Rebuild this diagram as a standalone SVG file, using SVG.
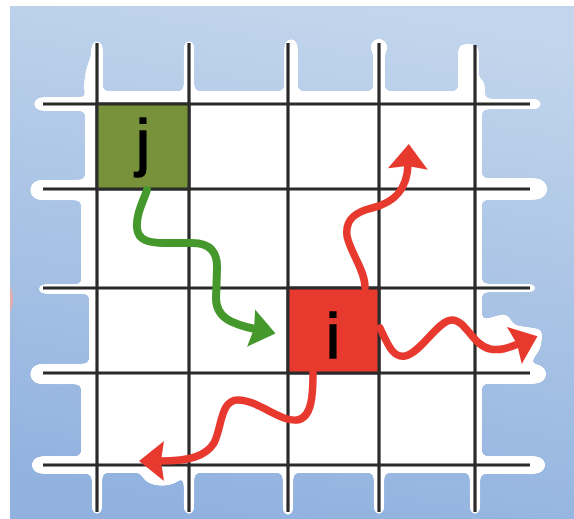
<svg xmlns="http://www.w3.org/2000/svg" width="574" height="519" viewBox="0 0 574 519">
<defs>
<linearGradient id="bg" x1="0.6" y1="0" x2="0.4" y2="1">
<stop offset="0" stop-color="#c2d5ec"/>
<stop offset="1" stop-color="#91b2df"/>
</linearGradient>
<filter id="goo" filterUnits="userSpaceOnUse" x="0" y="0" width="574" height="519" color-interpolation-filters="sRGB">
<feGaussianBlur in="SourceGraphic" stdDeviation="3.5"/>
<feColorMatrix values="1 0 0 0 0  0 1 0 0 0  0 0 1 0 0  0 0 0 18 -7"/>
</filter>
<filter id="soft" x="-5%" y="-5%" width="110%" height="110%">
<feGaussianBlur stdDeviation="0.6"/>
</filter>
<marker id="ahG" markerUnits="userSpaceOnUse" viewBox="-2 -22 30 44" markerWidth="30" markerHeight="44" refX="4" refY="0" orient="auto">
<path d="M0,-19 L25,0 L0,19 L3,0 Z" fill="#45982c"/>
</marker>
<marker id="ahR" markerUnits="userSpaceOnUse" viewBox="-2 -22 30 44" markerWidth="30" markerHeight="44" refX="4" refY="0" orient="auto">
<path d="M0,-20 L25,0 L0,20 L3,0 Z" fill="#e8392f"/>
</marker>
<style>
.cell{stroke:#2b2b2b;stroke-width:3}
.lbl{font-family:"Liberation Sans",Arial,sans-serif;font-size:63px;fill:#000;stroke:#000;stroke-width:1.6;text-anchor:middle}
.flow{fill:none;stroke-linecap:round;stroke-linejoin:round}
.g{stroke:#45982c;stroke-width:8;marker-end:url(#ahG)}
.r{stroke:#e8392f;stroke-width:7.5;marker-end:url(#ahR)}
</style>
</defs>

<rect x="0" y="0" width="574" height="519" fill="#ffffff"/>
<rect x="10" y="6" width="564" height="513" fill="url(#bg)"/>
<path d="M10,286 C14,292 14,306 10,312 Z" fill="#f2a89e" opacity="0.8"/>

<g id="paper" filter="url(#goo)" fill="#fff" stroke="#fff" stroke-linecap="round">
<rect x="90" y="92" width="391" height="380" stroke="none"/>
<rect x="86" y="108" width="8" height="76" stroke="none"/>
<rect x="82" y="194" width="10" height="90" stroke="none"/>
<rect x="82" y="378" width="10" height="84" stroke="none"/>
<line x1="40" y1="104" x2="95" y2="104" stroke-width="12"/>
<line x1="40" y1="190" x2="95" y2="190" stroke-width="19"/>
<line x1="42" y1="289" x2="95" y2="289" stroke-width="8"/>
<line x1="40" y1="374" x2="95" y2="374" stroke-width="19"/>
<line x1="40" y1="465" x2="95" y2="465" stroke-width="16"/>
<line x1="478" y1="104" x2="537" y2="104" stroke-width="9"/>
<line x1="478" y1="189" x2="537" y2="189" stroke-width="20"/>
<line x1="478" y1="288" x2="533" y2="288" stroke-width="7"/>
<line x1="478" y1="374" x2="537" y2="374" stroke-width="18"/>
<line x1="478" y1="465" x2="537" y2="465" stroke-width="16"/>
<line x1="97" y1="46" x2="97" y2="95" stroke-width="10"/>
<path d="M85,95 C84,78 87,64 94,52 L100,52 L100,95 Z" stroke="none"/>
<line x1="189" y1="45" x2="189" y2="95" stroke-width="9"/>
<line x1="291" y1="45" x2="291" y2="95" stroke-width="12"/>
<line x1="379" y1="48" x2="379" y2="95" stroke-width="10"/>
<circle cx="379" cy="47" r="8" stroke="none"/>
<rect x="459" y="45" width="19" height="50" stroke="none"/>
<rect x="474" y="80" width="10" height="20" stroke="none"/>
<line x1="97" y1="470" x2="97" y2="510" stroke-width="9"/>
<line x1="189" y1="470" x2="189" y2="510" stroke-width="9"/>
<line x1="288" y1="470" x2="288" y2="511" stroke-width="9"/>
<line x1="379" y1="470" x2="379" y2="510" stroke-width="9"/>
<line x1="475" y1="470" x2="475" y2="510" stroke-width="9"/>
<ellipse cx="162" cy="474" rx="20" ry="11" stroke="none"/>
<path d="M478,322 L506,314 L514,326 L542,330 L540,348 L526,368 L478,368 Z" stroke="none"/>
</g>

<g id="grid" stroke="#2b2b2b" stroke-width="3.2" fill="none" filter="url(#soft)">
<path d="M97,43V512 M189,43V512 M288,43V512 M379,43V512 M475,45V512"/>
<path d="M43,104H530 M43,189H530 M43,288H530 M43,373H530 M43,465H530"/>
</g>

<g id="node-j">
<rect class="cell" x="97" y="104" width="92" height="85" fill="#77923b"/>
<text class="lbl" x="143" y="164">j</text>
</g>

<g id="node-i">
<rect class="cell" x="288" y="288" width="91" height="85" fill="#e8392f"/>
<text class="lbl" x="333" y="358">i</text>
</g>

<g id="connectors" class="flow">
<path class="flow g" d="M147,190 C143,202 136,214 137,228 C138,240 148,243 165,243 L192,243 C210,243 218,252 217,270 L216,298 C216,318 232,324 255,329"/>
<path class="flow r" d="M365,287 C365,270 350,252 347,236 C345,220 355,212 372,208 C392,203 407,192 408,165"/>
<path class="flow r" d="M380,328 C388,345 393,358 405,356 C420,354 438,320 452,320 C466,320 472,345 490,349 C500,351 508,348 518,344"/>
<path class="flow r" d="M313,373 C313,395 312,418 297,420 C280,422 258,400 238,400 C220,400 222,428 214,443 C206,456 190,461 160,461"/>
</g>
</svg>
